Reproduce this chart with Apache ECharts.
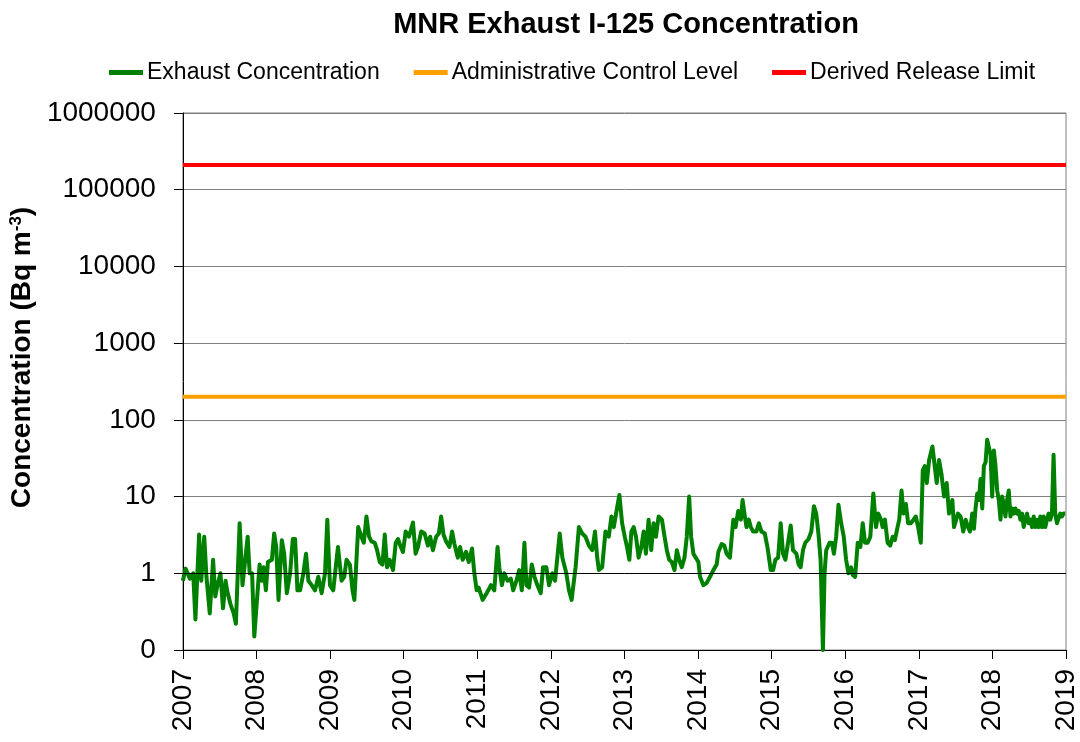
<!DOCTYPE html>
<html>
<head>
<meta charset="utf-8">
<title>MNR Exhaust I-125 Concentration</title>
<script src="https://cdn.jsdelivr.net/npm/echarts@6/dist/echarts.min.js"></script>
<style>
  html, body { margin: 0; padding: 0; background: #fff; }
  #chart { width: 1080px; height: 742px; }
</style>
</head>
<body>
<div id="chart"></div>
<script>
// sample dates (decimal years) and measured exhaust concentration, Bq m-3
var dates = [
  2007.000, 2007.036, 2007.095, 2007.140, 2007.170, 2007.220, 2007.250, 2007.290, 2007.320, 2007.365,
  2007.410, 2007.440, 2007.470, 2007.510, 2007.545, 2007.580, 2007.600, 2007.645, 2007.690, 2007.720,
  2007.771, 2007.810, 2007.880, 2007.907, 2007.940, 2007.970, 2007.997, 2008.042, 2008.073, 2008.096,
  2008.127, 2008.155, 2008.209, 2008.240, 2008.268, 2008.299, 2008.344, 2008.376, 2008.412, 2008.457,
  2008.493, 2008.525, 2008.556, 2008.592, 2008.637, 2008.673, 2008.705, 2008.750, 2008.795, 2008.840,
  2008.885, 2008.931, 2008.962, 2008.998, 2009.043, 2009.107, 2009.156, 2009.192, 2009.224, 2009.269,
  2009.305, 2009.330, 2009.382, 2009.426, 2009.458, 2009.494, 2009.530, 2009.562, 2009.607, 2009.639,
  2009.675, 2009.711, 2009.743, 2009.774, 2009.810, 2009.855, 2009.892, 2009.923, 2009.954, 2009.990,
  2010.027, 2010.072, 2010.126, 2010.162, 2010.194, 2010.238, 2010.284, 2010.329, 2010.360, 2010.397,
  2010.441, 2010.478, 2010.509, 2010.541, 2010.577, 2010.622, 2010.658, 2010.690, 2010.735, 2010.766,
  2010.802, 2010.848, 2010.884, 2010.929, 2010.960, 2010.992, 2011.019, 2011.073, 2011.127, 2011.186,
  2011.231, 2011.276, 2011.299, 2011.335, 2011.366, 2011.411, 2011.456, 2011.488, 2011.533, 2011.569,
  2011.605, 2011.641, 2011.668, 2011.705, 2011.741, 2011.777, 2011.817, 2011.862, 2011.894, 2011.939,
  2011.975, 2012.020, 2012.057, 2012.120, 2012.156, 2012.210, 2012.246, 2012.282, 2012.336, 2012.381,
  2012.426, 2012.471, 2012.517, 2012.562, 2012.600, 2012.630, 2012.652, 2012.697, 2012.742, 2012.787,
  2012.823, 2012.855, 2012.886, 2012.931, 2012.968, 2013.004, 2013.035, 2013.067, 2013.094, 2013.125,
  2013.157, 2013.193, 2013.229, 2013.261, 2013.292, 2013.328, 2013.364, 2013.396, 2013.428, 2013.464,
  2013.509, 2013.545, 2013.576, 2013.608, 2013.644, 2013.680, 2013.712, 2013.743, 2013.779, 2013.816,
  2013.847, 2013.879, 2013.906, 2013.937, 2013.969, 2014.005, 2014.027, 2014.073, 2014.118, 2014.163,
  2014.208, 2014.253, 2014.276, 2014.321, 2014.357, 2014.388, 2014.433, 2014.479, 2014.510, 2014.546,
  2014.582, 2014.605, 2014.636, 2014.659, 2014.690, 2014.717, 2014.749, 2014.794, 2014.826, 2014.862,
  2014.907, 2014.943, 2014.988, 2015.020, 2015.051, 2015.088, 2015.123, 2015.155, 2015.187, 2015.223,
  2015.259, 2015.290, 2015.336, 2015.367, 2015.394, 2015.426, 2015.457, 2015.502, 2015.539, 2015.575,
  2015.606, 2015.637, 2015.665, 2015.697, 2015.719, 2015.742, 2015.787, 2015.819, 2015.846, 2015.877,
  2015.908, 2015.945, 2015.980, 2016.012, 2016.044, 2016.080, 2016.102, 2016.134, 2016.170, 2016.206,
  2016.238, 2016.269, 2016.305, 2016.341, 2016.382, 2016.418, 2016.449, 2016.486, 2016.508, 2016.540,
  2016.576, 2016.612, 2016.644, 2016.675, 2016.711, 2016.734, 2016.765, 2016.792, 2016.824, 2016.855,
  2016.891, 2016.928, 2016.959, 2016.991, 2017.027, 2017.054, 2017.081, 2017.108, 2017.140, 2017.185,
  2017.216, 2017.243, 2017.275, 2017.307, 2017.343, 2017.379, 2017.410, 2017.438, 2017.456, 2017.478,
  2017.500, 2017.532, 2017.568, 2017.604, 2017.636, 2017.668, 2017.695, 2017.726, 2017.749, 2017.771,
  2017.794, 2017.817, 2017.839, 2017.862, 2017.884, 2017.907, 2017.929, 2017.952, 2017.975, 2017.997,
  2018.020, 2018.042, 2018.065, 2018.087, 2018.110, 2018.132, 2018.155, 2018.177, 2018.200, 2018.222,
  2018.245, 2018.268, 2018.290, 2018.313, 2018.335, 2018.358, 2018.380, 2018.403, 2018.425, 2018.448,
  2018.471, 2018.493, 2018.516, 2018.538, 2018.561, 2018.583, 2018.606, 2018.628, 2018.651, 2018.674,
  2018.696, 2018.719, 2018.741, 2018.764, 2018.786, 2018.809, 2018.831, 2018.854, 2018.877, 2018.899,
  2018.922, 2018.944, 2018.967, 2018.990
];
var exhaust = [
  0.8, 1.15, 0.85, 1.0, 0.25, 3.2, 0.8, 3.0, 0.9, 0.3,
  1.5, 0.5, 0.7, 1.0, 0.35, 0.8, 0.6, 0.4, 0.3, 0.22,
  4.5, 0.7, 3.0, 1.0, 1.0, 0.15, 0.15, 1.3, 0.8, 1.2,
  0.6, 1.4, 1.5, 3.3, 2.2, 0.45, 2.7, 1.8, 0.55, 1.0,
  2.8, 2.8, 0.6, 0.6, 1.0, 1.8, 0.8, 0.7, 0.6, 0.9,
  0.55, 1.0, 5.0, 0.7, 0.6, 2.2, 0.8, 0.9, 1.5, 1.3,
  0.6, 0.45, 4.0, 3.0, 2.5, 5.5, 3.0, 2.6, 2.5, 2.0,
  1.4, 1.3, 3.2, 1.2, 1.5, 1.1, 2.5, 2.8, 2.3, 1.9,
  3.5, 3.0, 4.6, 1.8, 2.2, 3.5, 3.3, 2.3, 3.0, 2.0,
  3.0, 3.3, 5.5, 3.2, 2.6, 2.2, 3.5, 2.4, 1.6, 2.2,
  1.5, 1.9, 1.4, 2.1, 1.0, 0.6, 0.65, 0.45, 0.55, 0.7,
  0.6, 2.2, 1.2, 0.7, 1.0, 0.8, 0.85, 0.6, 0.8, 1.1,
  0.6, 2.5, 0.7, 0.65, 1.3, 0.9, 0.7, 0.55, 1.2, 1.2,
  0.7, 1.0, 0.8, 3.3, 1.6, 1.0, 0.6, 0.45, 1.2, 4.0,
  3.3, 3.0, 2.3, 2.0, 3.5, 1.6, 1.1, 1.2, 3.5, 3.0,
  5.5, 4.0, 6.0, 10.5, 4.5, 3.0, 2.2, 1.5, 3.5, 4.0,
  3.0, 1.6, 2.2, 3.5, 1.8, 5.0, 2.0, 4.5, 3.0, 5.5,
  5.0, 3.0, 2.0, 1.5, 1.4, 1.1, 2.0, 1.5, 1.2, 1.6,
  3.0, 10.0, 3.0, 1.8, 1.6, 1.4, 0.9, 0.7, 0.75, 0.9,
  1.1, 1.3, 1.9, 2.4, 2.3, 1.8, 1.6, 5.0, 4.0, 6.5,
  5.0, 9.0, 5.5, 4.0, 5.0, 4.0, 3.5, 3.5, 4.5, 3.5,
  3.3, 2.2, 1.1, 1.1, 1.5, 1.6, 4.5, 1.8, 1.5, 2.5,
  4.2, 2.0, 1.8, 1.3, 1.2, 2.0, 2.5, 2.8, 3.5, 7.5,
  6.0, 3.2, 1.5, 0.1, 1.0, 2.0, 2.5, 2.5, 1.8, 3.0,
  7.8, 4.5, 3.0, 1.5, 1.0, 1.2, 0.95, 0.9, 2.5, 2.2,
  4.5, 2.5, 2.5, 3.0, 11, 4.0, 6.0, 5.0, 4.0, 5.0,
  2.5, 2.3, 3.0, 2.7, 4.0, 5.0, 12, 6, 8, 4.5,
  4.5, 5.0, 5.5, 4.0, 2.5, 22, 25, 15, 30, 45,
  25, 15, 30, 20, 10, 15, 6, 8, 9, 4,
  4, 6, 5.5, 3.5, 5, 4, 3.5, 6, 3.8, 7,
  11, 9, 17, 7, 25, 28, 55, 55, 35, 10,
  40, 25, 12, 9, 5, 10, 8, 5.5, 9, 12,
  5.5, 7, 6, 7, 6, 6.5, 5, 6, 4, 5,
  6, 4.5, 5, 4, 5.5, 4, 5, 4, 5.5, 4,
  5.5, 4, 5, 6, 5, 6, 35, 6, 4.5, 4.5,
  6, 5.5, 6, 6
];
// reference levels, drawn across the whole period
var limitYears = [2007, 2019];
var adminControl = [200, 200];
var derivedRelease = [210000, 210000];
var yearTicks = [2007, 2008, 2009, 2010, 2011, 2012, 2013, 2014, 2015, 2016, 2017, 2018, 2019];

var font = '"Liberation Sans", Arial, sans-serif';

function pairs(xs, ys) {
  return xs.map(function (x, i) { return [x, ys[i]]; });
}

var chart = echarts.init(document.getElementById('chart'));
chart.setOption({
  animation: false,
  textStyle: { fontFamily: font },
  title: {
    text: 'MNR Exhaust I-125 Concentration',
    left: 621,
    top: 5,
    textAlign: 'center',
    textStyle: { fontFamily: font, fontSize: 29, fontWeight: 'bold', color: '#000' }
  },
  legend: {
    left: 104,
    top: 56,
    icon: 'rect',
    itemWidth: 34,
    itemHeight: 5,
    itemGap: 34,
    data: ['Exhaust Concentration', 'Administrative Control Level', 'Derived Release Limit'],
    textStyle: { fontFamily: font, fontSize: 23, color: '#000', padding: [0, 0, 0, -1] }
  },
  grid: {
    left: 179, right: 14, top: 113, bottom: 92,
    show: true, borderColor: '#808080', borderWidth: 1
  },
  xAxis: {
    type: 'value',
    min: yearTicks[0],
    max: yearTicks[yearTicks.length - 1],
    interval: 1,
    axisLine: { onZero: false, lineStyle: { color: '#000', width: 1 } },
    axisTick: { show: true, length: 9, lineStyle: { color: '#000' } },
    splitLine: { show: false },
    axisLabel: {
      rotate: 90, margin: 19, color: '#000', fontSize: 28, fontFamily: font,
      formatter: function (v) { return String(v); }
    }
  },
  yAxis: {
    type: 'log',
    logBase: 10,
    min: 0.1,
    max: 1000000,
    name: 'Concentration (Bq m{sup|-3})',
    nameLocation: 'middle',
    nameGap: 119,
    nameRotate: 90,
    nameTextStyle: {
      fontFamily: font, fontSize: 28, fontWeight: 'bold', color: '#000',
      padding: [0, 0, 0, 48],
      rich: { sup: { fontFamily: font, fontSize: 17, fontWeight: 'bold', color: '#000', verticalAlign: 'top', lineHeight: 28 } }
    },
    axisLine: { show: true, lineStyle: { color: '#000', width: 1 } },
    axisTick: { show: true, length: 9, lineStyle: { color: '#000' } },
    splitLine: { show: true, lineStyle: { color: '#808080', width: 1 } },
    minorTick: { show: false },
    axisLabel: {
      margin: 27, color: '#000', fontSize: 28, fontFamily: font,
      formatter: function (v) { return v < 1 ? '0' : String(Math.round(v)); }
    }
  },
  series: [
    {
      name: 'Administrative Control Level',
      type: 'line',
      data: pairs(limitYears, adminControl),
      showSymbol: false,
      color: '#FFA000',
      lineStyle: { color: '#FFA000', width: 4 },
      markLine: {
        silent: true,
        symbol: 'none',
        label: { show: false },
        lineStyle: { color: '#000', width: 1, type: 'solid' },
        data: [{ yAxis: 1 }]
      }
    },
    {
      name: 'Derived Release Limit',
      type: 'line',
      data: pairs(limitYears, derivedRelease),
      showSymbol: false,
      color: '#FF0000',
      lineStyle: { color: '#FF0000', width: 4 }
    },
    {
      name: 'Exhaust Concentration',
      type: 'line',
      data: pairs(dates, exhaust),
      showSymbol: false,
      color: '#008000',
      lineStyle: { color: '#008000', width: 4, join: 'round' }
    }
  ]
});
</script>
</body>
</html>
